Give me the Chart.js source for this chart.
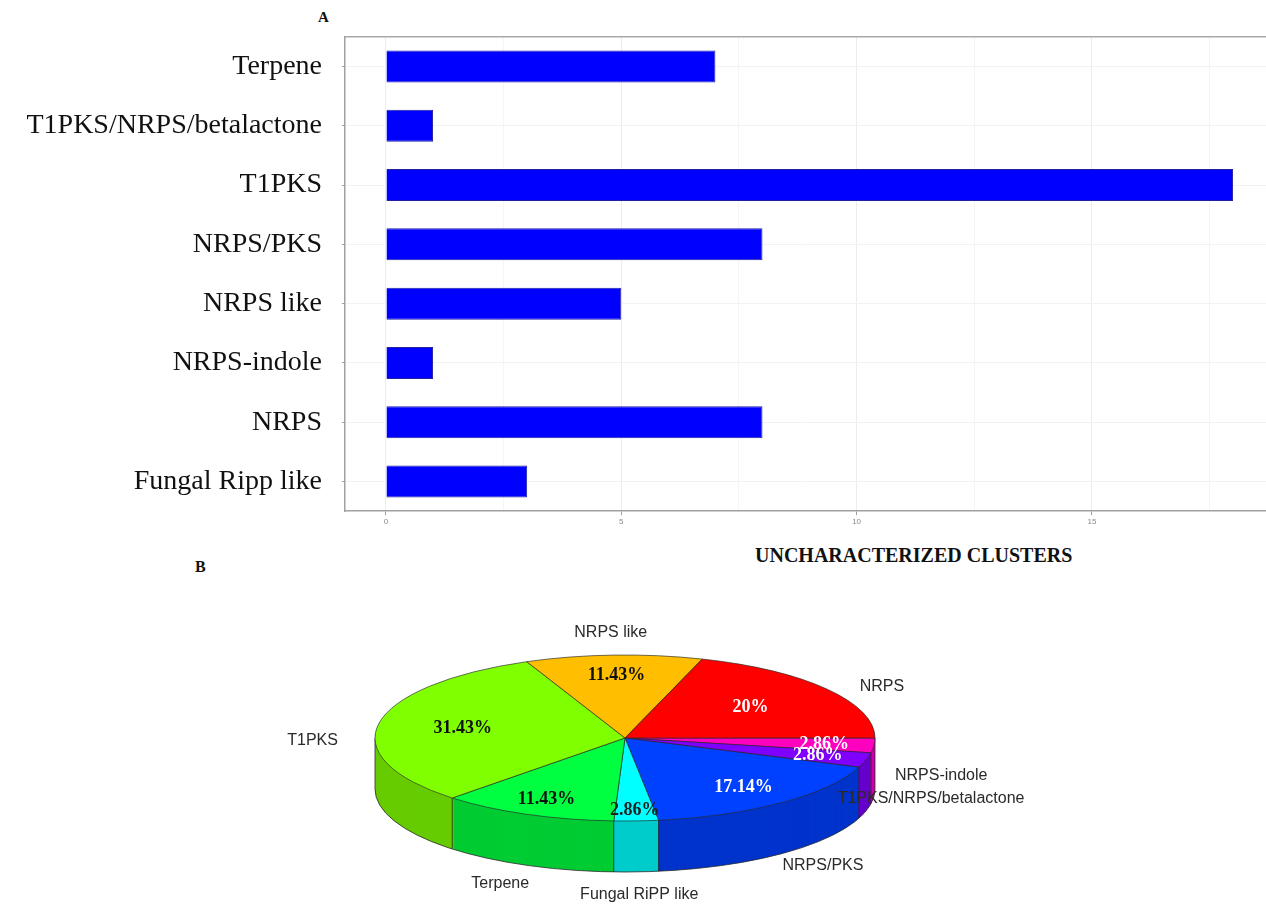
<!DOCTYPE html>
<html lang="en">
  <head>
    <meta charset="UTF-8" />
    <title>Uncharacterized clusters</title>
    <style>
      body {
        margin: 0;
        background: #fff;
        width: 1266px;
        height: 907px;
        position: relative;
        overflow: hidden;
      }
      .box {
        position: absolute;
      }
      .tag {
        position: absolute;
        font-family: "Liberation Serif", serif;
        font-weight: bold;
        color: #111;
      }
    </style>
  </head>
  <body>
    <div class="tag" style="left: 318px; top: 9px; font-size: 15px">A</div>
    <div class="tag" style="left: 195px; top: 558px; font-size: 16px">B</div>
    <div class="tag" style="left: 755px; top: 544px; font-size: 20px">UNCHARACTERIZED CLUSTERS</div>

    <div class="box" style="left: 0; top: 0; width: 1266px; height: 548px">
      <canvas id="barChart"></canvas>
    </div>
    <div class="box" style="left: 0; top: 583px; width: 1266px; height: 324px">
      <canvas id="pieChart"></canvas>
    </div>

    <script src="https://cdn.jsdelivr.net/npm/chart.js@4/dist/chart.umd.min.js"></script>
    <script>
      // panel A - clusters per type
      const barLabels = [
        "Terpene",
        "T1PKS/NRPS/betalactone",
        "T1PKS",
        "NRPS/PKS",
        "NRPS like",
        "NRPS-indole",
        "NRPS",
        "Fungal Ripp like",
      ];
      const barValues = [7, 1, 18, 8, 5, 1, 8, 3];

      // panel B - same clusters as shares, clockwise from 3 o'clock
      const pieLabels = [
        "NRPS-indole",
        "T1PKS/NRPS/betalactone",
        "NRPS/PKS",
        "Fungal RiPP like",
        "Terpene",
        "T1PKS",
        "NRPS like",
        "NRPS",
      ];
      const pieValues = [1, 1, 6, 1, 4, 11, 4, 7];

      const topColors = ["#FF00BF", "#8000FF", "#0040FF", "#00FFFF", "#00FF40", "#80FF00", "#FFBF00", "#FF0000"];
      const sideColors = ["#CC00A6", "#6600CC", "#0033CC", "#00CCCC", "#00CC33", "#66CC00", "#CC9900", "#CC0000"];
      const pctColors = ["#fff", "#fff", "#fff", "#222", "#111", "#111", "#111", "#fff"];
      const pctRadius = [0.8, 0.8, 0.76, 0.87, 0.8, 0.66, 0.76, 0.62];

      const SQUASH = 0.332;
      const DEPTH = 51;
      const PIE_R = 250;

      // top border of the ggplot panel
      const panelTop = {
        id: "panelTop",
        afterDraw(chart) {
          const { ctx, chartArea } = chart;
          ctx.save();
          ctx.strokeStyle = "#a8a8a8";
          ctx.lineWidth = 1.5;
          ctx.beginPath();
          ctx.moveTo(chartArea.left, chartArea.top);
          ctx.lineTo(chartArea.right, chartArea.top);
          ctx.stroke();
          ctx.restore();
        },
      };

      new Chart(document.getElementById("barChart"), {
        type: "bar",
        data: {
          labels: barLabels,
          datasets: [
            {
              data: barValues,
              backgroundColor: "#0000ff",
              borderColor: "#2020a0",
              borderWidth: 1,
              barPercentage: 0.54,
              categoryPercentage: 1,
            },
          ],
        },
        options: {
          indexAxis: "y",
          responsive: true,
          maintainAspectRatio: false,
          animation: false,
          events: [],
          layout: { padding: { top: 35, right: 0 } },
          plugins: { legend: { display: false }, tooltip: { enabled: false } },
          scales: {
            x: {
              min: -0.871,
              max: 18.7,
              afterFit: (s) => {
                s.height = 27;
              },
              ticks: {
                stepSize: 2.5,
                includeBounds: false,
                autoSkip: false,
                maxRotation: 0,
                padding: 2,
                color: "#8a8a8a",
                font: { family: "Liberation Sans", size: 8 },
                callback: (v) => (v % 5 === 0 ? v : ""),
              },
              grid: {
                color: (c) => (c.tick && c.tick.value % 5 === 0 ? "#ececec" : "#f5f5f5"),
                tickColor: (c) => (c.tick && c.tick.value % 5 === 0 ? "#a0a0a0" : "rgba(0,0,0,0)"),
                tickLength: 4,
              },
              border: { color: "#a0a0a0", width: 1.5 },
            },
            y: {
              afterFit: (s) => {
                s.width = 345;
              },
              ticks: {
                padding: 20,
                color: "#111",
                font: { family: "Liberation Serif", size: 28 },
              },
              grid: {
                offset: false,
                color: "#f2f2f2",
                tickColor: "#a0a0a0",
                tickLength: 3,
              },
              border: { color: "#a0a0a0", width: 1.5 },
            },
          },
        },
        plugins: [panelTop],
      });

      // fake 3d: side wall below, squashed top face, labels on top
      const tilt = {
        id: "tilt",
        beforeDatasetsDraw(chart) {
          const ctx = chart.ctx;
          const arcs = chart.getDatasetMeta(0).data;
          const cx = arcs[0].x;
          const cy = arcs[0].y;
          const r = arcs[0].outerRadius;

          for (let d = DEPTH; d > 0; d--) {
            ctx.save();
            ctx.translate(cx, cy + d);
            ctx.scale(1, SQUASH);
            arcs.forEach((a, i) => {
              ctx.beginPath();
              ctx.moveTo(0, 0);
              ctx.arc(0, 0, r, a.startAngle, a.endAngle);
              ctx.closePath();
              ctx.fillStyle = sideColors[i];
              ctx.fill();
            });
            ctx.restore();
          }

          // outline of the wall
          ctx.save();
          ctx.strokeStyle = "#2a2a2a";
          ctx.lineWidth = 0.8;
          ctx.beginPath();
          ctx.ellipse(cx, cy + DEPTH, r, r * SQUASH, 0, 0, Math.PI);
          ctx.stroke();
          const edges = [0, Math.PI];
          arcs.forEach((a) => {
            let ang = a.startAngle % (2 * Math.PI);
            if (ang < 0) ang += 2 * Math.PI;
            if (ang > 0 && ang < Math.PI) edges.push(ang);
          });
          edges.forEach((ang) => {
            const x = cx + r * Math.cos(ang);
            const y = cy + r * SQUASH * Math.sin(ang);
            ctx.beginPath();
            ctx.moveTo(x, y);
            ctx.lineTo(x, y + DEPTH);
            ctx.stroke();
          });
          ctx.restore();

          ctx.save();
          ctx.translate(cx, cy);
          ctx.scale(1, SQUASH);
          ctx.translate(-cx, -cy);
        },
        afterDatasetsDraw(chart) {
          chart.ctx.restore();
        },
        afterDraw(chart) {
          const ctx = chart.ctx;
          const arcs = chart.getDatasetMeta(0).data;
          const total = pieValues.reduce((a, b) => a + b, 0);
          ctx.save();
          ctx.textAlign = "center";
          ctx.textBaseline = "middle";
          arcs.forEach((a, i) => {
            const mid = (a.startAngle + a.endAngle) / 2;
            const c = Math.cos(mid);
            const s = Math.sin(mid);
            const r = a.outerRadius;

            const pct = parseFloat(((pieValues[i] / total) * 100).toFixed(2)) + "%";
            ctx.font = "bold 18px 'Liberation Serif'";
            ctx.fillStyle = pctColors[i];
            ctx.fillText(pct, a.x + r * pctRadius[i] * c, a.y + r * SQUASH * pctRadius[i] * s);

            ctx.font = "16px 'Liberation Sans'";
            ctx.fillStyle = "#2a2a2a";
            const g = 1.27;
            ctx.fillText(pieLabels[i], a.x + r * g * c, a.y + r * SQUASH * g * s + DEPTH * 0.5 * (1 + s));
          });
          ctx.restore();
        },
      };

      new Chart(document.getElementById("pieChart"), {
        type: "pie",
        data: {
          labels: pieLabels,
          datasets: [
            {
              data: pieValues,
              backgroundColor: topColors,
              borderColor: "#2a2a2a",
              borderWidth: 1,
              clip: false,
            },
          ],
        },
        options: {
          responsive: true,
          maintainAspectRatio: false,
          animation: false,
          events: [],
          radius: PIE_R,
          rotation: 90,
          layout: { padding: { right: 16, bottom: 14 } },
          plugins: { legend: { display: false }, tooltip: { enabled: false } },
        },
        plugins: [tilt],
      });
    </script>
  </body>
</html>
